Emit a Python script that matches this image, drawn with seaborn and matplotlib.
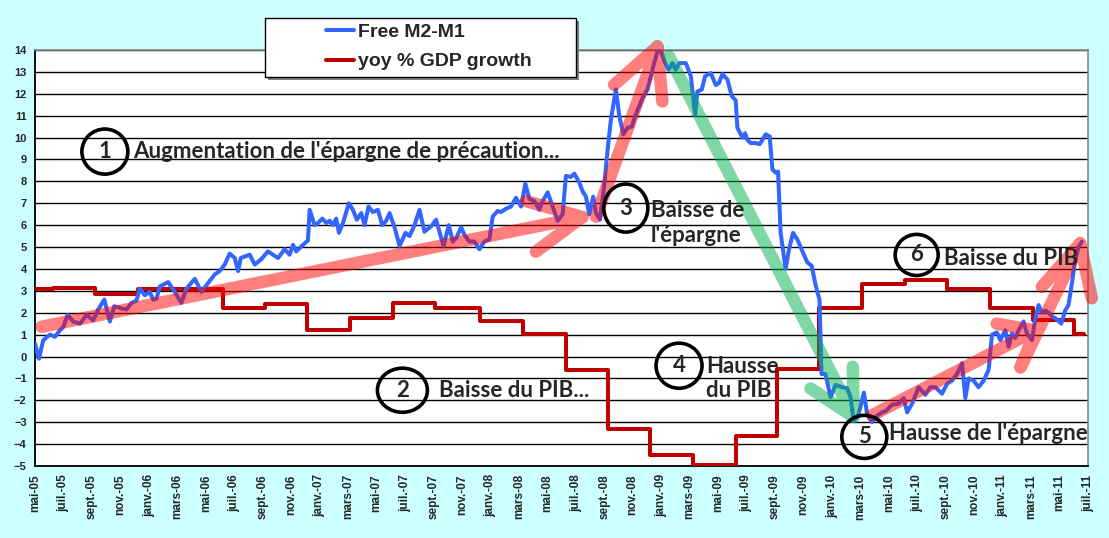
import numpy as np
import seaborn as sns
import matplotlib.pyplot as plt
from matplotlib.patches import Ellipse, Rectangle, PathPatch
from matplotlib.path import Path

# Free M2-M1 : mois depuis mai-05, valeur en %
m2_month = [0.0, 0.28, 0.58, 1.05, 1.40, 1.75, 1.99, 2.29, 2.69, 3.16, 3.63, 4.09, 4.44, 4.87,
            5.26, 5.57, 6.08, 6.43, 6.78, 7.13, 7.37, 7.72, 8.07, 8.30, 8.54, 8.77, 9.36, 9.82,
            10.29, 10.64, 11.23, 11.70, 12.16, 12.63, 12.98, 13.33, 13.68, 14.04, 14.27, 14.46,
            15.09, 15.44, 15.91, 16.37, 16.73, 17.08, 17.54, 17.89, 18.13, 18.36, 18.83, 19.18,
            19.30, 19.65, 19.89, 20.19, 20.47, 20.71, 20.94, 21.17, 21.36, 21.64, 22.06, 22.34,
            22.62, 22.93, 23.16, 23.44, 23.75, 24.10, 24.40, 24.68, 24.92, 25.27, 25.62, 26.04,
            26.32, 26.67, 27.02, 27.37, 27.84, 28.19, 28.42, 28.71, 29.08, 29.36, 29.59, 29.95,
            30.18, 30.53, 30.88, 31.23, 31.58, 31.93, 32.17, 32.52, 32.75, 33.10, 33.45, 33.80,
            34.16, 34.46, 34.74, 35.09, 35.44, 35.68, 36.03, 36.38, 36.73, 37.08, 37.31, 37.66,
            37.90, 38.25, 38.48, 38.72, 38.95, 39.23, 39.42, 39.70, 40.00, 40.24, 40.47, 40.82,
            41.06, 41.34, 41.64, 41.95, 42.18, 42.41, 42.69, 43.05, 43.28, 43.51, 43.75, 43.98,
            44.29, 44.52, 44.80, 45.03, 45.27, 45.74, 46.09, 46.39, 46.55, 46.86, 47.09, 47.49,
            47.84, 48.07, 48.31, 48.66, 48.96, 49.24, 49.36, 49.71, 49.90, 50.06, 50.30, 50.65,
            50.93, 51.35, 51.63, 51.82, 52.05, 52.22, 52.40, 52.75, 52.99, 53.27, 53.57, 53.97,
            54.27, 54.58, 54.86, 55.13, 55.27, 55.55, 55.91, 56.26, 56.72, 57.08, 57.31, 57.54,
            57.85, 58.25, 58.48, 58.83, 59.18, 59.53, 59.77, 60.23, 60.70, 61.05, 61.29, 61.64,
            62.10, 62.57, 62.92, 63.27, 63.74, 64.09, 64.44, 64.79, 65.15, 65.38, 65.61, 65.96,
            66.31, 66.67, 67.02, 67.25, 67.60, 67.84, 68.19, 68.42, 68.65, 68.89, 69.12, 69.47,
            69.71, 70.06, 70.29, 70.53, 70.76, 71.00, 71.23, 71.46, 71.81, 72.12, 72.40, 72.63,
            72.87, 73.10, 73.33, 73.57]
m2_value = [0.6, -0.1, 0.75, 1.0, 0.9, 1.2, 1.35, 1.9, 1.6, 1.5, 1.9, 1.65, 2.15, 2.6,
            1.6, 2.3, 2.2, 2.15, 2.45, 2.55, 3.1, 2.8, 2.95, 2.6, 2.65, 3.2, 3.4, 2.95,
            2.45, 3.1, 3.55, 2.95, 3.35, 3.75, 3.9, 4.2, 4.7, 4.5, 3.9, 4.5,
            4.65, 4.2, 4.45, 4.8, 4.65, 4.5, 4.9, 4.65, 5.1, 4.8, 5.1, 5.3,
            6.7, 6.0, 6.1, 6.3, 6.1, 6.2, 6.0, 6.3, 5.65, 6.1, 7.0, 6.7,
            6.25, 6.55, 6.0, 6.85, 6.6, 6.7, 6.0, 6.2, 6.55, 5.9, 5.05, 5.65,
            5.5, 6.0, 6.7, 5.7, 5.95, 6.25, 5.7, 5.05, 6.0, 5.25, 5.4, 5.9,
            5.55, 5.25, 5.25, 4.9, 5.25, 5.35, 6.4, 6.65, 6.6, 6.75, 6.85, 7.25,
            6.85, 7.9, 7.2, 7.1, 6.7, 7.1, 7.5, 6.85, 6.2, 6.5, 8.25, 8.2,
            8.35, 7.95, 7.55, 7.3, 6.5, 7.3, 6.55, 6.25, 7.8, 9.45, 10.8, 12.2,
            11.0, 10.15, 10.45, 10.5, 11.0, 11.35, 11.8, 12.2, 12.8, 13.4, 13.95, 13.95,
            13.4, 13.1, 13.4, 13.1, 13.4, 13.4, 12.8, 11.05, 12.1, 12.2, 12.8, 12.95,
            12.4, 12.5, 12.9, 12.65, 11.9, 11.7, 10.45, 10.0, 10.2, 9.9, 9.75, 9.75,
            9.7, 10.15, 10.05, 8.55, 8.4, 8.45, 5.65, 4.0, 4.9, 5.65, 5.35, 4.75,
            4.3, 4.15, 3.25, 2.6, -0.8, -0.8, -1.85, -1.3, -1.4, -1.45, -1.85, -2.95,
            -2.7, -1.65, -2.65, -3.0, -2.7, -2.55, -2.5, -2.2, -2.15, -1.9, -2.55, -2.15,
            -1.4, -1.75, -1.4, -1.4, -1.7, -1.25, -1.1, -0.8, -0.3, -1.9, -1.0, -1.1,
            -1.4, -1.1, -0.6, 1.0, 1.1, 0.75, 1.2, 0.45, 1.05, 0.85, 1.2, 1.6,
            1.05, 0.75, 1.7, 2.35, 2.0, 2.1, 2.0, 1.85, 1.7, 1.5, 2.1, 2.35,
            3.35, 4.4, 5.0, 5.25]

# yoy % GDP growth : valeur trimestrielle, changement au mois indiqué
gdp_month = [0, 1.3, 4.25, 7.25, 10.2, 13.2, 16.15, 19.1, 22.15, 25.15, 28.1, 31.3, 34.3,
             37.3, 40.3, 43.25, 46.25, 49.25, 52.15, 55.1, 58.15, 61.15, 64.1, 67.1, 70.1,
             73.0, 73.7]
gdp_value = [3.08, 3.15, 2.85, 3.08, 3.08, 2.2, 2.4, 1.2, 1.75, 2.45, 2.2, 1.6, 1.05,
             -0.6, -3.3, -4.5, -4.95, -3.65, -0.55, 2.2, 3.3, 3.5, 3.1, 2.2, 1.65,
             1.05, 1.05]

mois = ['janv.', 'févr.', 'mars', 'avr.', 'mai', 'juin', 'juil.', 'août', 'sept.', 'oct.', 'nov.', 'déc.']
tick_pos = np.arange(0, 75, 2)
tick_labels = [f"{mois[(4 + m) % 12]}-{5 + (4 + m) // 12:02d}" for m in tick_pos]

# flèches dessinées d'un seul trait : couleur, [(départ, pointe, barbe 1, barbe 2), ...]
pink = (1, 0, 0, 0.5)
green = (0, 0.69, 0.31, 0.5)
arrows = [
    (pink, [((0.47, 1.36), (38.46, 6.37), (34.5, 7.1), (35.2, 4.79)),
            ((39.42, 6.39), (43.74, 14.16), (40.70, 12.41), (44.09, 11.65))]),
    (green, [((44.56, 13.71), (57.54, -2.76), (54.5, -1.46), (57.47, -0.47))]),
    (pink, [((58.83, -2.68), (70.32, 1.19), (67.58, 1.5), (69.26, -0.49)),
            ((69.26, -0.49), (73.45, 5.17), (70.76, 3.19), (74.27, 2.66))]),
]

# cercles numérotés (centre, largeur px, hauteur px)
circles = [('1', 4.91, 9.36, 46, 45), ('2', 25.82, -1.54, 50, 44), ('3', 41.52, 6.78, 44, 48),
           ('4', 45.26, -0.42, 46, 45), ('5', 58.28, -3.67, 45, 43), ('6', 61.96, 4.64, 43, 41)]

notes = [("Augmentation de l'épargne de précaution...", 6.88, 9.36),
         ("Baisse du PIB...", 28.42, -1.54),
         ("Baisse de\nl'épargne", 43.27, 6.1),
         ("Hausse\ndu PIB", 47.14, -1.01),
         ("Hausse de l'épargne", 60.0, -3.52),
         ("Baisse du PIB", 63.86, 4.48)]

sns.set_theme(style='white')
plt.rcParams['font.family'] = ['Liberation Sans', 'DejaVu Sans']

W, H = 1109, 538
fig = plt.figure(figsize=(W / 100, H / 100), dpi=100, facecolor='#CCFFFF')
ax = fig.add_axes([35 / W, 1 - 466 / H, (1088 - 35) / W, (466 - 50) / H])
ax.set_facecolor('white')

sns.lineplot(x=gdp_month, y=gdp_value, ax=ax, color='#C00000', lw=2.9,
             drawstyle='steps-post', label='yoy % GDP growth', zorder=3)
sns.lineplot(x=m2_month, y=m2_value, ax=ax, color='#3366FF', lw=2.9,
             label='Free M2-M1', zorder=4)

ax.set_xlim(0, 74)
ax.set_ylim(-5, 14)
ax.set_yticks(range(-5, 15))
ax.set_xticks(tick_pos)
ax.set_xticklabels(tick_labels, rotation=90, fontsize=8.5, fontweight='bold')
for lab in ax.get_yticklabels():
    lab.set_fontweight('bold')
    lab.set_fontsize(8)
ax.tick_params(axis='both', direction='out', length=4, width=1, color='black', pad=2)
ax.yaxis.grid(True, color='black', lw=1)
ax.set_axisbelow(True)
for side in ['left', 'bottom']:
    ax.spines[side].set_color('black')
    ax.spines[side].set_linewidth(1.3)
for side in ['top', 'right']:
    ax.spines[side].set_color('#888888')
    ax.spines[side].set_linewidth(1.2)

for col, group in arrows:
    verts, codes = [], []
    for start, tip, b1, b2 in group:
        verts += [start, tip, b1, tip, b2]
        codes += [Path.MOVETO, Path.LINETO, Path.MOVETO, Path.LINETO, Path.LINETO]
    ax.add_patch(PathPatch(Path(verts, codes), fill=False, ec=col, lw=9, capstyle='round',
                           joinstyle='round', clip_on=False, zorder=5))

for num, cx, cy, wpx, hpx in circles:
    ax.add_patch(Ellipse((cx, cy), wpx / 14.23, hpx / 21.86, fill=False, ec='black',
                         lw=2.6, clip_on=False, zorder=6))
    ax.text(cx, cy, num, ha='center', va='center', fontsize=16, family='Lato',
            fontweight='bold', zorder=7)

for txt, x, y in notes:
    ax.text(x, y, txt, ha='left', va='center', fontsize=16, family='Lato',
            fontweight='bold', linespacing=1.2, zorder=7)

# légende
fig.add_artist(Rectangle((268 / W, 1 - 80 / H), 311 / W, 59 / H, transform=fig.transFigure,
                         fc='#808080', ec='none', zorder=1))
fig.add_artist(Rectangle((265 / W, 1 - 77 / H), 311 / W, 59 / H, transform=fig.transFigure,
                         fc='white', ec='black', lw=1, zorder=2))
handles, labels = ax.get_legend_handles_labels()
if ax.get_legend() is not None:
    ax.get_legend().remove()
order = [labels.index('Free M2-M1'), labels.index('yoy % GDP growth')]
leg = fig.legend([handles[i] for i in order], [labels[i] for i in order],
                 loc='center left', bbox_to_anchor=(316 / W, 1 - 47 / H), frameon=False,
                 prop={'weight': 'bold', 'size': 14}, handlelength=1.45, handletextpad=0.2,
                 labelspacing=0.6, borderpad=0)
leg.set_zorder(3)

fig.savefig('out.png', dpi=100, facecolor=fig.get_facecolor())
